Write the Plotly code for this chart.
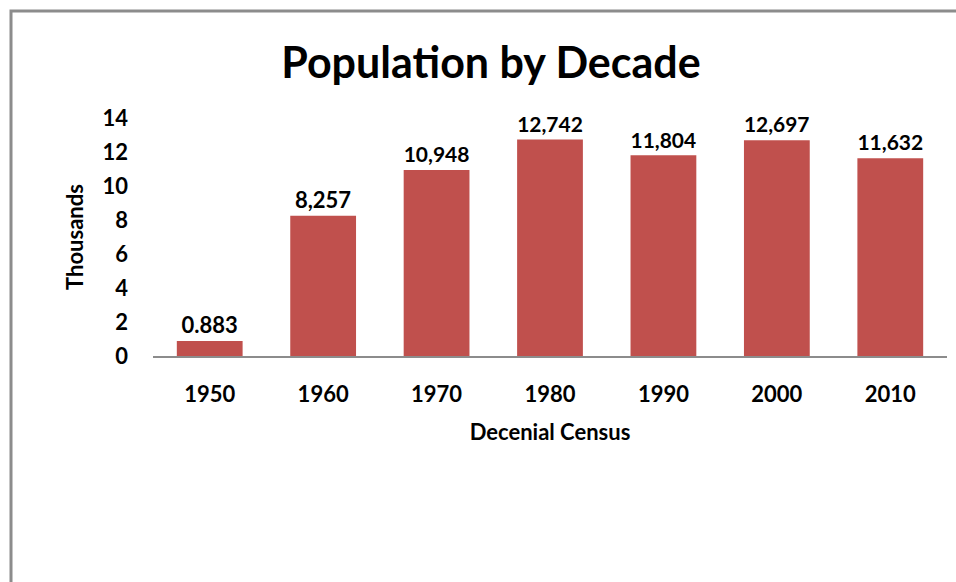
import plotly.graph_objects as go

years = ["1950", "1960", "1970", "1980", "1990", "2000", "2010"]
population_thousands = [0.883, 8.257, 10.948, 12.742, 11.804, 12.697, 11.632]
bar_labels = ["0.883", "8,257", "10,948", "12,742", "11,804", "12,697", "11,632"]
y_ticks = [0, 2, 4, 6, 8, 10, 12, 14]

W, H = 956, 582
ml, mr, mt, mb = 153, 9, 118, 226
pw, ph = W - ml - mr, H - mt - mb

def px_to_paper_x(px):
    return (px - ml) / pw

def px_to_paper_y(py):
    return (H - mb - py) / ph

FONT = "Lato"

fig = go.Figure(go.Bar(
    x=years, y=population_thousands,
    marker=dict(color="#C0504D", line=dict(width=0)),
    text=bar_labels, textposition="outside", cliponaxis=False,
    textfont=dict(family=FONT, size=22, color="black", weight="bold"),
))

fig.update_layout(
    width=W, height=H,
    margin=dict(l=ml, r=mr, t=mt, b=mb),
    paper_bgcolor="white", plot_bgcolor="white",
    bargap=0.42,
    showlegend=False,
    title=dict(text="<b>Population by Decade</b>", x=(491) / W, xanchor="center",
               y=1 - 63 / H, yanchor="middle",
               font=dict(family=FONT, size=43, color="black")),
    font=dict(family=FONT, color="black"),
)

fig.update_xaxes(
    showline=True, linecolor="#8C8C8C", linewidth=2,
    showgrid=False, ticks="", ticklabelstandoff=18,
    tickfont=dict(family=FONT, size=22, weight="bold"),
    title=dict(text="<b>Decenial Census</b>", font=dict(family=FONT, size=22), standoff=18),
)
fig.update_yaxes(
    range=[0, 14], tickvals=y_ticks, showline=False, showgrid=False,
    zeroline=False, ticks="", ticklabelstandoff=24,
    tickfont=dict(family=FONT, size=22, weight="bold"),
    title=dict(text="<b>Thousands</b>", font=dict(family=FONT, size=22), standoff=12),
)

fig.add_shape(type="rect", xref="paper", yref="paper",
              x0=px_to_paper_x(11), x1=px_to_paper_x(1100),
              y0=px_to_paper_y(800), y1=px_to_paper_y(11),
              line=dict(color="#8C8C8C", width=3), fillcolor="rgba(0,0,0,0)",
              layer="below")

fig.write_html("out.html")
